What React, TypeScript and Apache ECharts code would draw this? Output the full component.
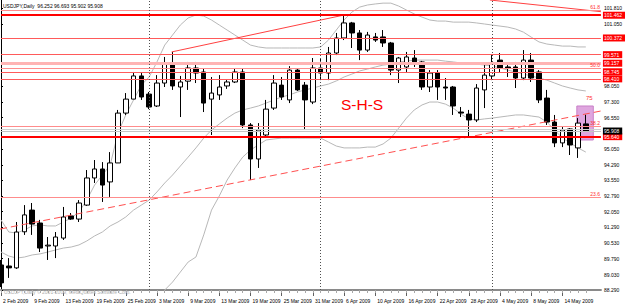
import React, { useEffect, useRef } from "react";
import * as echarts from "echarts";

// ---- data (USDJPY, Daily) ----
const opens = [89.49, 89.44, 89.35, 91.08, 92.12, 91.5, 90.4, 90.4, 90.78, 91.84, 91.69, 92.36, 93.66, 94.09, 93.47, 94.38, 96.77, 97.44, 98.55, 97.68, 97.11, 98.21, 99.17, 98.02, 98.3, 98.93, 98.74, 97.44, 97.64, 98.07, 98.26, 98.74, 96.2, 94.57, 95.72, 97.01, 98.11, 97.4, 98.83, 98.11, 97.3, 98.93, 98.69, 99.65, 100.37, 101.09, 100.61, 99.79, 100.42, 100.42, 100.13, 98.83, 98.98, 99.41, 99.22, 98.02, 98.69, 98.02, 98.02, 96.82, 96.72, 96.44, 97.88, 98.55, 99.31, 98.98, 98.98, 98.45, 99.31, 98.74, 97.49, 96.34, 95.34, 96.01, 95.1, 96.252];
const closes = [88.63, 89.35, 91.07, 91.89, 91.45, 90.3, 90.44, 90.83, 91.79, 91.69, 92.46, 93.66, 94.09, 93.32, 94.38, 96.77, 97.44, 98.55, 97.54, 97.06, 98.21, 99.17, 98.07, 98.26, 98.93, 98.69, 97.25, 97.73, 98.02, 98.26, 98.74, 96.2, 94.57, 95.96, 96.96, 98.21, 97.54, 98.83, 97.88, 97.4, 98.93, 98.69, 99.65, 100.37, 101.09, 100.61, 99.79, 100.51, 100.27, 100.13, 98.83, 99.41, 99.46, 99.17, 98.02, 98.69, 98.02, 97.97, 97.11, 96.77, 96.44, 97.97, 98.59, 99.17, 98.93, 98.93, 98.45, 99.31, 98.45, 97.4, 96.34, 95.34, 95.96, 95.24, 96.29, 95.908];
const lows = [88.43, 88.87, 89.3, 90.93, 90.93, 90.11, 89.73, 89.82, 90.69, 91.65, 91.55, 92.32, 93.42, 92.51, 92.75, 94.38, 96.68, 97.44, 97.4, 96.96, 97.06, 98.02, 97.88, 96.58, 97.88, 98.21, 96.82, 95.72, 97.4, 97.93, 98.21, 96.05, 93.56, 94.14, 95.62, 96.92, 97.4, 97.25, 97.83, 95.96, 97.2, 98.35, 98.35, 99.55, 100.27, 99.89, 99.31, 99.7, 100.18, 99.94, 98.59, 98.21, 98.74, 98.98, 97.88, 97.78, 97.4, 97.4, 96.68, 96.58, 95.67, 96.34, 97.01, 98.35, 98.74, 98.5, 97.97, 98.35, 98.26, 97.25, 96.2, 95.14, 95.14, 94.76, 94.62, 95.902];
const highs = [89.73, 89.82, 91.55, 92.36, 92.46, 91.65, 90.83, 91.07, 92.27, 91.98, 92.6, 94.04, 94.52, 94.42, 94.9, 96.92, 97.73, 98.74, 98.69, 97.78, 98.59, 99.46, 99.7, 98.55, 99.22, 99.22, 98.93, 98.5, 98.59, 98.4, 98.93, 98.93, 96.29, 96.29, 97.4, 98.59, 98.5, 99.02, 98.88, 98.26, 99.41, 99.41, 99.94, 100.61, 101.47, 101.14, 100.75, 100.66, 100.61, 100.75, 100.18, 99.46, 99.7, 99.79, 99.27, 98.83, 98.83, 98.45, 98.07, 97.06, 96.92, 98.16, 99.07, 99.55, 99.65, 99.17, 99.22, 99.79, 99.65, 98.83, 97.88, 96.68, 96.1, 96.05, 96.53, 96.693];

const bandUpper = [91.65, 91.07, 91.02, 91.17, 91.36, 91.41, 91.36, 91.36, 91.55, 91.74, 92.03, 92.6, 93.32, 93.8, 94.28, 95.81, 96.68, 97.4, 98.11, 98.5, 99.22, 100.03, 100.51, 100.99, 101.33, 101.47, 101.42, 101.23, 100.99, 100.75, 100.51, 100.27, 100.03, 99.94, 99.89, 99.89, 99.89, 99.89, 99.89, 99.89, 99.89, 99.94, 100.27, 100.75, 101.23, 101.61, 101.85, 101.95, 102.0, 102.04, 102.04, 101.9, 101.71, 101.52, 101.37, 101.23, 101.18, 101.18, 101.13, 101.13, 101.13, 101.09, 101.04, 100.99, 100.94, 100.89, 100.8, 100.65, 100.41, 100.18, 100.08, 100.03, 99.98, 99.98, 99.94, 99.94];
const bandMiddle = [90.11, 89.92, 89.82, 89.87, 89.97, 90.02, 90.11, 90.21, 90.3, 90.35, 90.45, 90.64, 90.88, 91.07, 91.36, 91.55, 91.79, 92.12, 92.36, 92.6, 92.99, 93.42, 93.8, 94.23, 94.66, 95.1, 95.57, 95.96, 96.25, 96.53, 96.77, 96.92, 97.01, 97.11, 97.25, 97.4, 97.54, 97.64, 97.78, 97.88, 97.97, 98.07, 98.16, 98.31, 98.5, 98.64, 98.79, 98.88, 98.98, 99.07, 99.12, 99.22, 99.26, 99.31, 99.31, 99.31, 99.31, 99.26, 99.22, 99.17, 99.12, 99.12, 99.07, 99.03, 98.93, 98.83, 98.74, 98.64, 98.55, 98.45, 98.35, 98.21, 98.07, 97.97, 97.88, 97.83];
const bandLowerStart = 20;
const bandLower = [87.6, 88.29, 88.67, 89.15, 89.63, 89.87, 90.93, 92.12, 92.8, 93.56, 94.14, 94.66, 95.0, 95.24, 95.48, 95.53, 95.57, 95.57, 95.57, 95.57, 95.57, 95.57, 95.38, 95.19, 95.1, 95.1, 95.1, 95.14, 95.14, 95.29, 95.57, 96.05, 96.53, 96.92, 97.16, 97.3, 97.3, 97.2, 97.01, 96.72, 96.49, 96.44, 96.49, 96.53, 96.58, 96.63, 96.68, 96.68, 96.63, 96.58, 96.34, 95.96, 95.57, 95.34, 95.1, 94.9];

const timeTickIndex = [0, 4, 8, 12, 16, 20, 24, 28, 32, 36, 40, 44, 48, 52, 56, 60, 64, 68, 72];
const timeTickLabels = ["2 Feb 2009", "9 Feb 2009", "13 Feb 2009", "19 Feb 2009", "25 Feb 2009", "3 Mar 2009", "9 Mar 2009", "13 Mar 2009", "19 Mar 2009", "25 Mar 2009", "31 Mar 2009", "6 Apr 2009", "10 Apr 2009", "16 Apr 2009", "22 Apr 2009", "28 Apr 2009", "4 May 2009", "8 May 2009", "14 May 2009"];
const monthStartIndex = [19, 41, 63];
const priceAxisTicks = [101.81, 101.05, 98.05, 97.3, 96.55, 95.05, 94.29, 93.55, 92.79, 92.05, 91.29, 90.53, 89.79, 89.03, 88.29];

const levelValues = [101.462, 100.372, 99.571, 99.157, 98.745, 98.41, 95.64];
const thickLevels = [101.462, 95.64];
const wideLevels = [99.157];
const currentPrice = 95.908;
const askLine = 95.99;
const fibValues = [101.71, 98.93, 96.15, 92.72];
const fibNames = ["61.8", "50.0", "38.2", "23.6"];

const necklinePoints = [[-0.12, 91.21], [76.94, 96.87]];
const upperTrendPoints = [[21.88, 99.7], [44.0, 101.47]];
const fallingTrendPoints = [[62.7, 102.19], [76.94, 101.63]];
const boxX = [73.85, 75.96];
const boxY = [95.48, 97.11];
const xMin = 0;
const xMax = 76.94;
const yMin = 88.29;
const yMax = 102.19;

const FONT = "Liberation Sans";

export default function App() {
  const ref = useRef<HTMLDivElement>(null);
  useEffect(() => {
    if (!ref.current) return;
    const chart = echarts.init(ref.current, undefined, { renderer: "svg" });
    const candles = opens.map((o, i) => [i, o, closes[i], lows[i], highs[i]]);
    const allBars = opens.map((_, i) => i);

    const levelLines: any[] = levelValues.map((v) => {
      const thick = thickLevels.includes(v);
      const wide = wideLevels.includes(v);
      return {
        yAxis: v,
        lineStyle: {
          color: thick ? "#ff0000" : wide ? "#ffb4b4" : "#ff5a5a",
          width: thick ? 2 : wide ? 3 : 1,
          type: "solid",
        },
        label: {
          show: true,
          position: "end",
          distance: 2,
          formatter: v.toFixed(3),
          backgroundColor: "#ff0000",
          color: "#ffffff",
          fontSize: 5,
          fontFamily: FONT,
          padding: [1, 3, 1, 1],
        },
      };
    });
    levelLines.push({
      yAxis: askLine,
      lineStyle: { color: "#cfcfcf", width: 1, type: "solid" },
      label: { show: false },
    });
    levelLines.push({
      yAxis: currentPrice,
      lineStyle: { color: "#c4c4c4", width: 1, type: "solid" },
      label: {
        show: true,
        position: "end",
        distance: 2,
        formatter: currentPrice.toFixed(3),
        backgroundColor: "#000000",
        color: "#ffffff",
        fontSize: 5,
        fontFamily: FONT,
        padding: [1, 3, 1, 1],
      },
    });
    fibValues.forEach((v, k) => {
      levelLines.push({
        yAxis: v,
        lineStyle: { color: "#ff8c8c", width: 1, type: "solid" },
        label: {
          show: true,
          position: "insideEndTop",
          distance: 1,
          formatter: fibNames[k],
          color: "#ff3030",
          fontSize: 5,
          fontFamily: FONT,
        },
      });
    });

    const option: any = {
      animation: false,
      backgroundColor: "#ffffff",
      textStyle: { fontFamily: FONT },
      grid: { left: 1, right: 19, top: 0, bottom: 16, containLabel: false },
      xAxis: [
        {
          type: "value",
          min: xMin,
          max: xMax,
          position: "bottom",
          splitLine: { show: false },
          axisLine: { show: true, onZero: false, lineStyle: { color: "#8a8a8a", width: 2 } },
          axisTick: { show: true, customValues: timeTickIndex, length: 6, lineStyle: { color: "#606060" } },
          axisLabel: {
            show: true,
            customValues: timeTickIndex,
            formatter: (v: number) => {
              const k = timeTickIndex.indexOf(Math.round(v));
              return k >= 0 ? timeTickLabels[k] : "";
            },
            align: "left",
            padding: [0, 0, 0, 2],
            margin: 8,
            fontSize: 5,
            color: "#000000",
            fontFamily: FONT,
          },
        },
        {
          type: "value",
          min: xMin,
          max: xMax,
          position: "bottom",
          splitLine: { show: false },
          axisLine: { show: false },
          axisTick: { show: true, customValues: allBars, length: 3, lineStyle: { color: "#a8a8a8" } },
          axisLabel: { show: false, customValues: allBars },
        },
      ],
      yAxis: {
        type: "value",
        position: "right",
        min: yMin,
        max: yMax,
        scale: true,
        splitLine: { show: false },
        axisLine: { show: true, lineStyle: { color: "#000000", width: 1 } },
        axisTick: { show: true, customValues: priceAxisTicks, length: 2, lineStyle: { color: "#000000" } },
        axisLabel: {
          show: true,
          customValues: priceAxisTicks,
          formatter: (v: number) => v.toFixed(3),
          fontSize: 5,
          color: "#000000",
          margin: 3,
          fontFamily: FONT,
        },
      },
      series: [
        {
          type: "line",
          name: "box",
          data: [],
          z: 1,
          markArea: {
            silent: true,
            itemStyle: { color: "#dfa6df", borderColor: "#c880c8", borderWidth: 1 },
            data: [[{ xAxis: boxX[0], yAxis: boxY[1] }, { xAxis: boxX[1], yAxis: boxY[0] }]],
          },
        },
        {
          type: "line",
          name: "BB upper",
          data: bandUpper.map((v, i) => [i, v]),
          showSymbol: false,
          z: 2,
          lineStyle: { color: "#b8b8b8", width: 1 },
        },
        {
          type: "line",
          name: "BB middle",
          data: bandMiddle.map((v, i) => [i, v]),
          showSymbol: false,
          z: 2,
          lineStyle: { color: "#b8b8b8", width: 1 },
        },
        {
          type: "line",
          name: "BB lower",
          data: bandLower.map((v, k) => [bandLowerStart + k, v]),
          showSymbol: false,
          z: 2,
          lineStyle: { color: "#b8b8b8", width: 1 },
        },
        {
          type: "candlestick",
          name: "USDJPY",
          data: candles,
          encode: { x: 0, y: [1, 2, 3, 4] },
          barWidth: 5,
          z: 3,
          itemStyle: {
            color: "#ffffff",
            color0: "#000000",
            borderColor: "#000000",
            borderColor0: "#000000",
            borderWidth: 1,
          },
        },
        {
          type: "line",
          name: "levels",
          data: [],
          z: 4,
          markLine: {
            silent: true,
            symbol: ["none", "none"],
            data: levelLines,
          },
        },
        {
          type: "line",
          name: "separators",
          data: [],
          z: 4,
          markLine: {
            silent: true,
            symbol: ["none", "none"],
            label: { show: false },
            lineStyle: { color: "#505050", width: 1, type: [1, 2] },
            data: monthStartIndex.map((i) => ({ xAxis: i })),
          },
        },
        {
          type: "line",
          name: "neckline",
          data: necklinePoints,
          showSymbol: false,
          z: 4,
          lineStyle: { color: "#ff5050", width: 1, type: [7, 4] },
        },
        {
          type: "line",
          name: "trend up",
          data: upperTrendPoints,
          showSymbol: false,
          z: 4,
          lineStyle: { color: "#ff4040", width: 1 },
        },
        {
          type: "line",
          name: "trend down",
          data: fallingTrendPoints,
          showSymbol: false,
          z: 4,
          lineStyle: { color: "#ff4040", width: 1 },
        },
      ],
      graphic: [
        {
          type: "text",
          left: 3,
          top: 3,
          z: 10,
          style: { text: "USDJPY,Daily  96.252 96.693 95.902 95.908", fontSize: 5, fill: "#000000", fontFamily: FONT },
        },
        {
          type: "text",
          left: 341,
          top: 96,
          z: 10,
          style: { text: "S-H-S", fontSize: 15.5, fill: "#ff0000", fontFamily: FONT },
        },
        {
          type: "text",
          left: 586,
          top: 95,
          z: 10,
          style: { text: "75", fontSize: 6, fill: "#ff3030", fontFamily: FONT },
        },
        {
          type: "text",
          left: 4,
          top: 289,
          z: 10,
          style: { text: "USDJPY,Daily © 2001-2009, MetaQuotes Software Corp.", fontSize: 5, fill: "#b0b0b0", fontFamily: FONT },
        },
      ],
    };
    chart.setOption(option);
    return () => chart.dispose();
  }, []);
  return (
    <div
      ref={ref}
      style={{ position: "fixed", left: 0, top: 0, width: 625, height: 306, background: "#ffffff" }}
    />
  );
}
